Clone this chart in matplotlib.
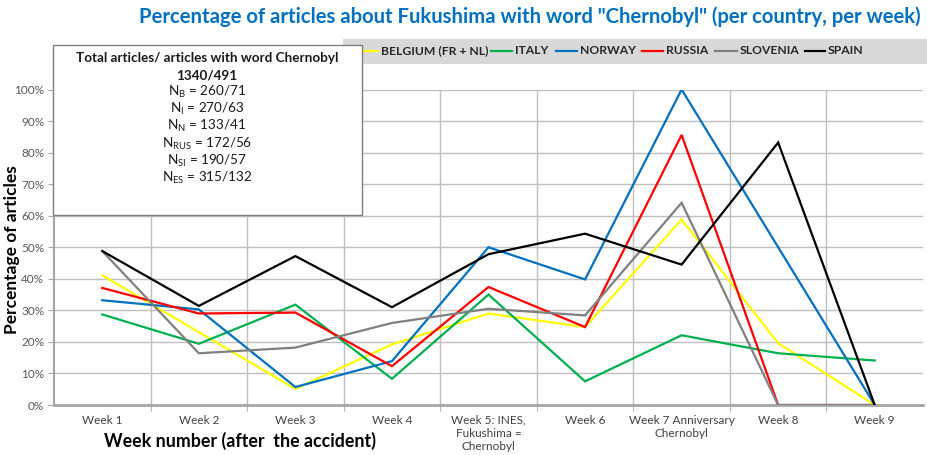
import matplotlib
matplotlib.use("Agg")
import matplotlib.pyplot as plt
from matplotlib.patches import Rectangle
from matplotlib.lines import Line2D
from matplotlib.ticker import FixedLocator, PercentFormatter

plt.rcParams['font.family'] = ['Lato', 'DejaVu Sans']
plt.rcParams['mathtext.fontset'] = 'custom'
plt.rcParams['mathtext.rm'] = 'Lato'

weeks = ["Week 1", "Week 2", "Week 3", "Week 4", "Week 5: INES,\nFukushima =\nChernobyl",
         "Week 6", "Week 7 Anniversary\nChernobyl", "Week 8", "Week 9"]

belgium = [41.1, 23.1, 5.1, 19.2, 29.0, 24.7, 58.8, 19.6, 0.0]
italy = [28.7, 19.4, 31.8, 8.3, 35.0, 7.5, 22.1, 16.4, 14.1]
norway = [33.2, 30.3, 5.7, 13.9, 50.0, 39.8, 100.0, 50.0, 0.0]
russia = [37.1, 29.0, 29.3, 12.3, 37.4, 24.7, 85.6, 0.0, 0.0]
slovenia = [48.8, 16.4, 18.2, 26.0, 30.5, 28.4, 64.1, 0.0, 0.0]
spain = [48.8, 31.4, 47.2, 31.0, 47.8, 54.3, 44.5, 83.2, 0.0]

series_names = ["BELGIUM (FR + NL)", "ITALY", "NORWAY", "RUSSIA", "SLOVENIA", "SPAIN"]
series_values = [belgium, italy, norway, russia, slovenia, spain]
series_colors = ["#FFFF00", "#00B050", "#0070C0", "#FF0000", "#808080", "#000000"]

box_lines = ["Total articles/ articles with word Chernobyl", "1340/491",
             r"N$_\mathregular{B}$ = 260/71", r"N$_\mathregular{I}$ = 270/63",
             r"N$_\mathregular{N}$ = 133/41", r"N$_\mathregular{RUS}$ = 172/56",
             r"N$_\mathregular{SI}$ = 190/57", r"N$_\mathregular{ES}$ = 315/132"]

W, H = 928, 455
fig = plt.figure(figsize=(W / 100, H / 100), dpi=100)
ax = fig.add_axes([54 / W, 1 - 405 / H, (923 - 54) / W, (405 - 89.5) / H])

x = list(range(len(weeks)))
for vals, c in zip(series_values, series_colors):
    ax.plot(x, vals, color=c, lw=1.6, zorder=3, solid_joinstyle='miter')

ax.set_xlim(-0.5, len(weeks) - 0.5)
ax.set_ylim(0, 100)
ax.yaxis.set_major_locator(FixedLocator(range(0, 101, 10)))
ax.yaxis.set_major_formatter(PercentFormatter(decimals=0))
ax.set_xticks(x)
ax.set_xticklabels(weeks, fontsize=8.5, color='#404040', linespacing=1.25, va='top')
ax.tick_params(axis='x', length=0, pad=7)
ax.set_xticks([i + 0.5 for i in range(len(weeks) - 1)], minor=True)
ax.tick_params(axis='x', which='minor', length=4, color='#A6A6A6')
ax.tick_params(axis='y', length=4, color='#A6A6A6', labelsize=8.5, labelcolor='#595959', pad=3)
ax.grid(axis='y', color='#BFBFBF', lw=1.0, zorder=0)
ax.grid(axis='x', which='minor', color='#BFBFBF', lw=1.0, zorder=0)
for s in ['top', 'right']:
    ax.spines[s].set_visible(False)
ax.spines['bottom'].set_color('#A6A6A6')
ax.spines['bottom'].set_linewidth(2)
ax.spines['left'].set_color('#A6A6A6')
ax.spines['left'].set_linewidth(1.5)

fig.text(12 / W, 1 - 250 / H, "Percentage of articles", rotation=90, fontsize=12.5,
         fontweight='bold', ha='center', va='center')
fig.text(240 / W, 1 - 441 / H, "Week number (after  the accident)", fontsize=12.8,
         fontweight='bold', ha='center', va='center')
fig.text(530 / W, 1 - 17 / H,
         'Percentage of articles about Fukushima with word "Chernobyl" (per country, per week)',
         fontsize=14.6, fontweight='bold', color='#0070C0', ha='center', va='center')

# legend band
fig.patches.append(Rectangle((343 / W, 1 - 64 / H), (928 - 343) / W, 25 / H,
                             transform=fig.transFigure, facecolor='#D9D9D9',
                             edgecolor='none', zorder=1))
leg_line_x = [(360, 378), (491, 512), (556, 577), (642, 663), (715, 737), (805, 825)]
for (x0, x1), name, c in zip(leg_line_x, series_names, series_colors):
    yy = 1 - 51 / H
    fig.lines.append(Line2D([x0 / W, x1 / W], [yy, yy], transform=fig.transFigure,
                            color=c, lw=1.6, zorder=2))
    fig.text((x1 + 3) / W, yy, name, fontsize=8.7, fontweight='bold', ha='left',
             va='center', color='#262626', zorder=3)

# text box
fig.patches.append(Rectangle((53 / W, 1 - 215 / H), (362 - 53) / W, (215 - 45) / H,
                             transform=fig.transFigure, facecolor='white',
                             edgecolor='#7F7F7F', lw=1.0, zorder=4))
for i, t in enumerate(box_lines):
    fig.text(207 / W, 1 - (58 + 17.1 * i) / H, t, fontsize=9.7,
             fontweight='bold' if i < 2 else 'normal', ha='center', va='center',
             color='#1a1a1a', zorder=5)

fig.savefig("out.png", dpi=100)
